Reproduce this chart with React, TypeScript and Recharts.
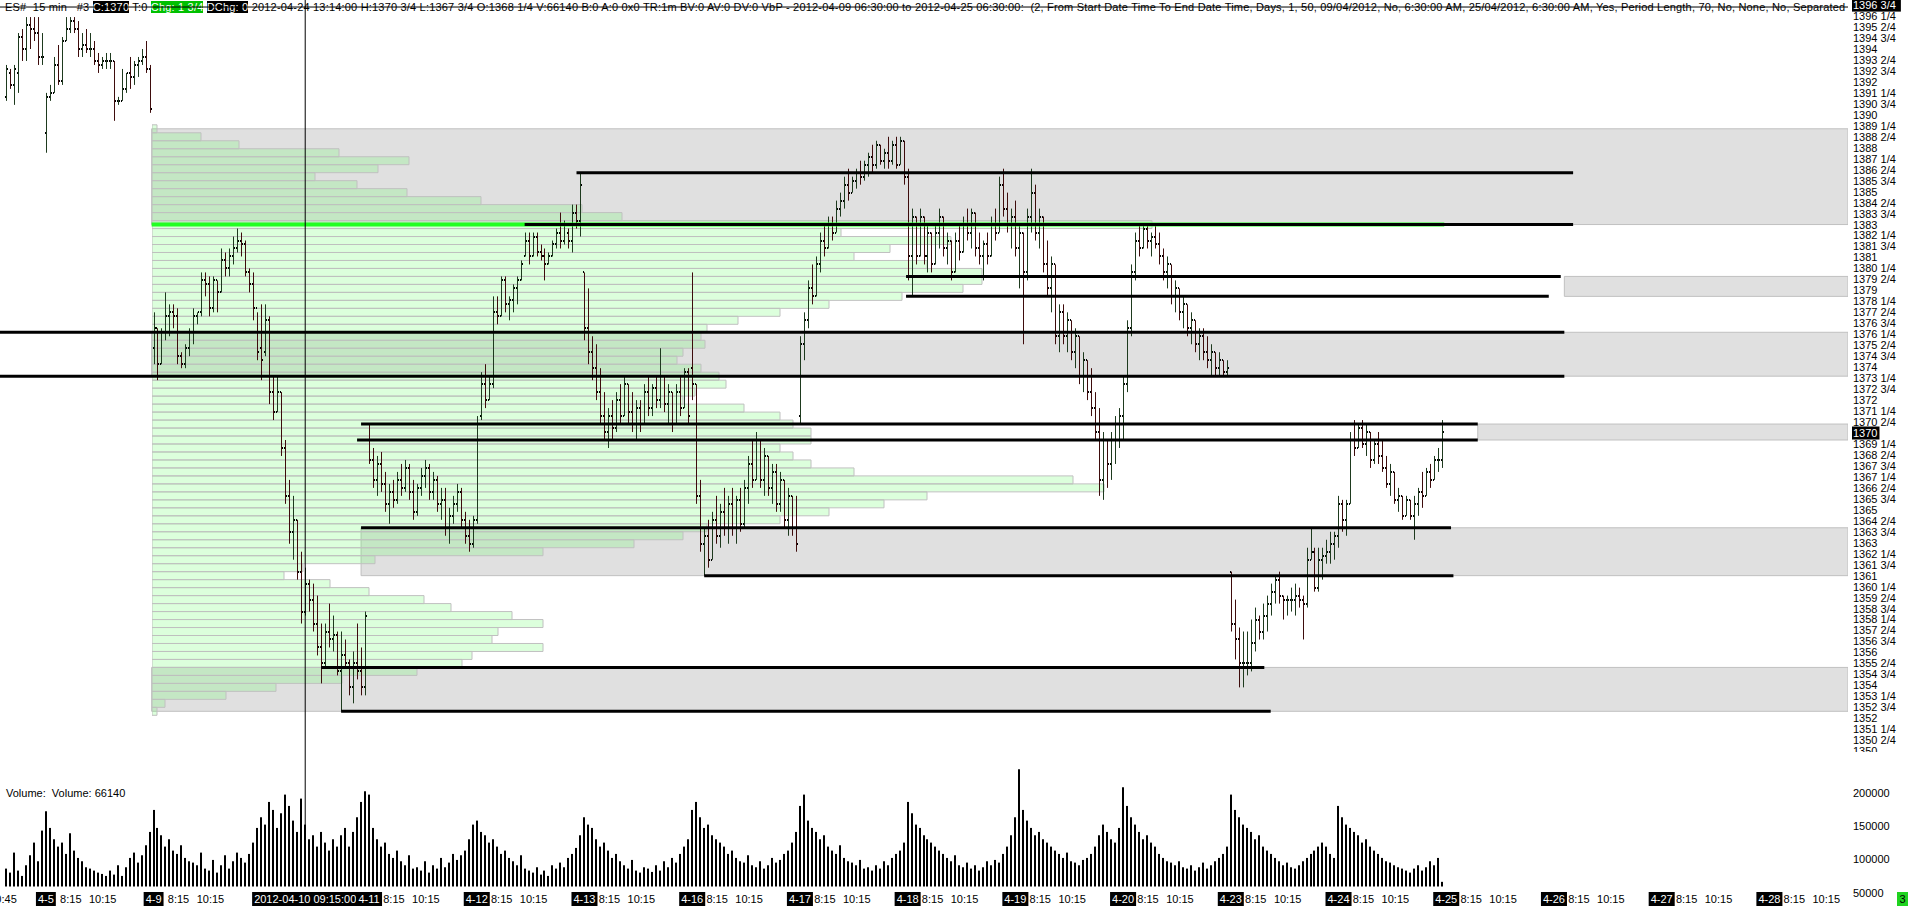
import React from 'react';
import { ComposedChart, Bar, XAxis, YAxis, ReferenceArea, ReferenceLine } from 'recharts';

// ---------------- DATA ----------------
type OHLC = [number, number, number, number]; // open, high, low, close

const s0404: OHLC[] = [
  [1391, 1393, 1390.75, 1392.75], [1392.5, 1392.75, 1391.5, 1391.75], [1391.75, 1393, 1390.5, 1392.75],
  [1392.5, 1395, 1391.25, 1394.75], [1394.75, 1395.25, 1393.25, 1394], [1394, 1396, 1393.25, 1395.5],
  [1395.5, 1396, 1394, 1395.25], [1395.25, 1396, 1394.5, 1395], [1395, 1396, 1393, 1393.5],
  [1393.5, 1395, 1393, 1393.5],
];
const s0405: OHLC[] = [
  [1388.75, 1391.25, 1387.5, 1391], [1391, 1391.75, 1390.75, 1391.25], [1391.25, 1393.5, 1391.25, 1393],
  [1393, 1394.25, 1391.75, 1392], [1392, 1394.75, 1391.75, 1394.5], [1394.5, 1396, 1394.5, 1395.25],
  [1395.25, 1396, 1395, 1395.75], [1395.75, 1396, 1395, 1395.25], [1395.25, 1395.75, 1393.5, 1394],
  [1394, 1395, 1393.5, 1394.25], [1394.25, 1395.25, 1393.75, 1394], [1394, 1395, 1393.5, 1394],
  [1394, 1394.5, 1393, 1393.25], [1393.25, 1393.75, 1392.5, 1393], [1393, 1393.5, 1392.75, 1393.25],
  [1393.25, 1393.75, 1392.75, 1393.25], [1393.25, 1393.75, 1392.75, 1393.25], [1393.25, 1393.25, 1389.5, 1390.75],
  [1390.75, 1391, 1390.5, 1390.75], [1390.75, 1392.75, 1390.75, 1391.5], [1391.5, 1392.5, 1391.25, 1392.5],
  [1392.5, 1393.5, 1391.5, 1392.25], [1392.25, 1393.25, 1391.75, 1393], [1393, 1393.5, 1392.25, 1393.25],
  [1393.25, 1394, 1393, 1393.5], [1393.5, 1394.5, 1392.5, 1392.75], [1392.75, 1393, 1390, 1390.25],
];
const s0409: OHLC[] = [
  [1375.25, 1377.5, 1374.25, 1376.5], [1376.5, 1376.5, 1373.25, 1374.25], [1374.25, 1376.5, 1374.25, 1376.25],
  [1376.25, 1378.75, 1375.75, 1377.25], [1377.25, 1378, 1376, 1377.5], [1377.5, 1378, 1376.5, 1377.25],
  [1377.25, 1377.75, 1374.25, 1374.75], [1374.75, 1375, 1374, 1374.25], [1374.25, 1375.5, 1374, 1375.25],
  [1375.25, 1376.5, 1374.75, 1376.25], [1376.25, 1377.75, 1375.5, 1377.25], [1377.25, 1377.5, 1376.75, 1377.5],
  [1377.5, 1380, 1377.25, 1379.5], [1379.5, 1380, 1378.5, 1379.25], [1379.25, 1379.75, 1377.25, 1377.75],
  [1377.75, 1379.75, 1377.5, 1379.5], [1379.5, 1379.5, 1377.5, 1378.75], [1378.75, 1381.5, 1378.75, 1380.75],
  [1380.75, 1381.25, 1379.75, 1380.25], [1380.25, 1381.5, 1379.75, 1381], [1381, 1382.25, 1380.5, 1381.5],
  [1381.5, 1382.75, 1381.25, 1382], [1382, 1382.5, 1381, 1381.75], [1381.75, 1382, 1379.75, 1380],
  [1380, 1380.25, 1378.75, 1379.25], [1379.25, 1380, 1377, 1377.75], [1377.75, 1377.5, 1374.5, 1375],
];
const s0410: OHLC[] = [
  [1375.25, 1378, 1373.25, 1374.5], [1375, 1378, 1374.75, 1377], [1377, 1377.25, 1371.75, 1372.5],
  [1372.5, 1373.5, 1370.75, 1371.25], [1371.25, 1373.5, 1371.25, 1372.5], [1372.5, 1372.5, 1368.5, 1369],
  [1369, 1369.5, 1365.5, 1366], [1366, 1367, 1363, 1363.75], [1363.75, 1366, 1362, 1364.5],
  [1364.5, 1364.5, 1360.75, 1361.25], [1361.25, 1362.5, 1358, 1358.75], [1358.75, 1361.5, 1358.5, 1360.5],
  [1360.5, 1360.75, 1358.75, 1359.5], [1359.5, 1360.5, 1357.5, 1358], [1358, 1359.75, 1356, 1356.5],
  [1356.5, 1358, 1354.25, 1355.5], [1355.5, 1358, 1355.25, 1357.5], [1357.5, 1359.25, 1356.5, 1357],
  [1357, 1358.5, 1356.25, 1357.25], [1357.25, 1357.5, 1354.75, 1355], [1355, 1357.5, 1352.5, 1356],
  [1356, 1357, 1355.25, 1355.5], [1355.5, 1355.75, 1353.5, 1354], [1354, 1356.25, 1353, 1355.5],
  [1355.5, 1358, 1354.5, 1355], [1355, 1356.5, 1353.5, 1354], [1354, 1358.75, 1353.5, 1358.5],
];
const s0411: OHLC[] = [
  [1369.5, 1370.5, 1368, 1368.25], [1368.25, 1369, 1366.5, 1367], [1367, 1368.5, 1366, 1368],
  [1368, 1368.75, 1366.25, 1366.75], [1366.75, 1367.5, 1365, 1365.5], [1365.5, 1366.75, 1364.25, 1366.25],
  [1366.25, 1367, 1365.25, 1365.75], [1365.75, 1367.5, 1365.5, 1367], [1367, 1368, 1366, 1366.5],
  [1366.5, 1368.25, 1366.25, 1367.75], [1367.75, 1368, 1365.75, 1366.25], [1366.25, 1367, 1364.5, 1365],
  [1365, 1366.75, 1364.75, 1366.5], [1366.5, 1367.75, 1366, 1367.25], [1367.25, 1368.25, 1366.5, 1367.75],
  [1367.75, 1368, 1365.75, 1366.25], [1366.25, 1367.5, 1365.75, 1367], [1367, 1367.25, 1365, 1365.5],
  [1365.5, 1366.5, 1364.5, 1365.75], [1365.75, 1366.5, 1363.5, 1364], [1364, 1365.25, 1363, 1364.75],
  [1364.75, 1366, 1364.25, 1365.5], [1365.5, 1366.75, 1365, 1366.25], [1366.25, 1366.5, 1364, 1364.5],
  [1364.5, 1365, 1363, 1363.5], [1363.5, 1364.5, 1362.5, 1363], [1363, 1364.75, 1362.75, 1364.5],
];
const s0412: OHLC[] = [
  [1364.5, 1371, 1364.25, 1370.5], [1371, 1373.75, 1370.75, 1373], [1373, 1374.25, 1371.5, 1372],
  [1372, 1373.5, 1372, 1373], [1373, 1378.5, 1372.75, 1377.5], [1377.5, 1378.5, 1376.75, 1377.25],
  [1377.25, 1379.75, 1377.25, 1379.5], [1379.5, 1379.75, 1377.5, 1378], [1378, 1378.5, 1377, 1378.25],
  [1378.25, 1379.25, 1377.5, 1379], [1379, 1379.75, 1378, 1379.5], [1379.5, 1380.75, 1379.5, 1380.5],
  [1381, 1382.5, 1381, 1382], [1382, 1382.5, 1380.5, 1381], [1381, 1382.5, 1381, 1382.25],
  [1382.25, 1382.5, 1381, 1381.25], [1381.25, 1381.75, 1380.75, 1381], [1381, 1381.5, 1379.5, 1380.5],
  [1380.5, 1381.25, 1380.5, 1381], [1381, 1382, 1381, 1381.75], [1381.75, 1382.75, 1381.5, 1382.5],
  [1382.5, 1383.75, 1381.5, 1382], [1382, 1383.25, 1381.75, 1383], [1382.5, 1382.75, 1381.5, 1382],
  [1382, 1384.25, 1381.25, 1383.75], [1383.75, 1384.25, 1382.75, 1383.25], [1383.25, 1386.25, 1382.25, 1385.5],
];
const s0413: OHLC[] = [
  [1380, 1380, 1375.75, 1376.5], [1376.5, 1379, 1374.25, 1375], [1375, 1376, 1373.25, 1374],
  [1374, 1375.5, 1372, 1372.5], [1372.5, 1374, 1370.5, 1371], [1371, 1372.5, 1369.5, 1370],
  [1370, 1371.5, 1369, 1371], [1371, 1372, 1369.5, 1370.25], [1370.25, 1372.5, 1370, 1372],
  [1372, 1373, 1370.5, 1371], [1371, 1373.5, 1371, 1373], [1373, 1373, 1370.5, 1371.25],
  [1371.25, 1372.5, 1370, 1370.5], [1370.5, 1372, 1369.5, 1371.5], [1371.5, 1372, 1370, 1370.5],
  [1370.5, 1373, 1370.5, 1372.5], [1372.5, 1373.5, 1371, 1371.5], [1371.5, 1373, 1371, 1372.75],
  [1372.75, 1373.5, 1371.5, 1372], [1372, 1375.25, 1371.5, 1373.5], [1373.5, 1373.5, 1371.25, 1371.75],
  [1371.75, 1373, 1370.5, 1372.5], [1372.5, 1372.5, 1370, 1370.5], [1370.5, 1373, 1370.5, 1372.5],
  [1372.5, 1373.5, 1371, 1371.5], [1371.5, 1374, 1371.5, 1373.75], [1373.75, 1374, 1370.5, 1371],
];
const s0416: OHLC[] = [
  [1374, 1380, 1372, 1373], [1373, 1373, 1365.5, 1366], [1366, 1367, 1362.5, 1363],
  [1363, 1364, 1361, 1363.5], [1363.5, 1364.5, 1361.5, 1362], [1362, 1365, 1362, 1364.5],
  [1364.5, 1366, 1363, 1363.5], [1363.5, 1365.5, 1362.75, 1365], [1365, 1366.5, 1363.5, 1364],
  [1364, 1366, 1363, 1365.5], [1365.5, 1366.5, 1363.5, 1364], [1364, 1366, 1363, 1365.75],
  [1365.75, 1366.5, 1363.75, 1364.25], [1364.25, 1367, 1364, 1366.5], [1366.5, 1368.5, 1365.5, 1368],
  [1368, 1369.5, 1366.5, 1367], [1367, 1370, 1367, 1369.5], [1369.5, 1369.5, 1366.5, 1367],
  [1367, 1369, 1366, 1368.5], [1368.5, 1368.5, 1366, 1366.5], [1366.5, 1368, 1365.5, 1367.5],
  [1367.5, 1368, 1365, 1365.5], [1365.5, 1367.5, 1365, 1367], [1367, 1367, 1364, 1364.5],
  [1364.5, 1366.5, 1363.5, 1366], [1366, 1366, 1363.5, 1364], [1364, 1366, 1362.5, 1363],
];
const s0417: OHLC[] = [
  [1371, 1376, 1370.5, 1375.5], [1375.5, 1377.5, 1374.5, 1377], [1377, 1379.5, 1376.5, 1379],
  [1379, 1380.5, 1378, 1378.5], [1378.5, 1381, 1378.5, 1380.5], [1380.5, 1382.5, 1380, 1382],
  [1382, 1383, 1381, 1381.5], [1381.5, 1383.5, 1381.5, 1383], [1383, 1383.5, 1382, 1382.5],
  [1382.5, 1384.5, 1382.5, 1384], [1384, 1385, 1383.5, 1384.5], [1384.5, 1386, 1384, 1385.5],
  [1385.5, 1386.5, 1384.5, 1385], [1385, 1386, 1385, 1385.75], [1385.75, 1386.5, 1385.25, 1386.25],
  [1386.25, 1387, 1385.5, 1386], [1386, 1387, 1385.75, 1386.75], [1386.75, 1387.5, 1386, 1387.25],
  [1387.25, 1388, 1386.25, 1386.75], [1386.75, 1388.25, 1386.5, 1388], [1388, 1388, 1386.75, 1387],
  [1387, 1387.75, 1386.5, 1387.5], [1387.5, 1388.5, 1386.5, 1387], [1387, 1388.25, 1386.75, 1388],
  [1388, 1388.5, 1386.5, 1386.75], [1386.75, 1388.5, 1386.75, 1388.25], [1388.25, 1388.25, 1385.5, 1386],
];
const s0418: OHLC[] = [
  [1386, 1386.5, 1379.5, 1381], [1381, 1384, 1378.5, 1383.5], [1383.5, 1383.5, 1380.5, 1381],
  [1381, 1384, 1381, 1383.5], [1383.5, 1383.5, 1380.5, 1381], [1381, 1383, 1380, 1382.5],
  [1382.5, 1382.5, 1380, 1380.5], [1380.5, 1383, 1380.5, 1382.5], [1382.5, 1384, 1381.5, 1383.5],
  [1383.5, 1383.5, 1381, 1381.5], [1381.5, 1382.5, 1380.5, 1382], [1382, 1382, 1379.5, 1380],
  [1380, 1382.5, 1380, 1382], [1382, 1383, 1380.75, 1381.25], [1381.25, 1383.5, 1381.25, 1383],
  [1383, 1384, 1382, 1382.5], [1382.5, 1384, 1381.5, 1383.75], [1383.75, 1383.75, 1381, 1381.5],
  [1381.5, 1382.5, 1380.5, 1381], [1381, 1382, 1379.5, 1381.75], [1381.75, 1382.5, 1380.5, 1381],
  [1381, 1383.5, 1381, 1383], [1383, 1384, 1382, 1382.5], [1382.5, 1386, 1382.5, 1385.5],
  [1385.5, 1386.5, 1383.5, 1384], [1384, 1385, 1382.5, 1383], [1383, 1384, 1381.5, 1383.5],
];
const s0419: OHLC[] = [
  [1383.5, 1384.5, 1381, 1381.5], [1381.5, 1383, 1379, 1382.5], [1382.5, 1382.5, 1375.5, 1380],
  [1380, 1384, 1379.5, 1383.5], [1383.5, 1386.5, 1382.5, 1385], [1385, 1385.5, 1382, 1382.5],
  [1382.5, 1384, 1381.5, 1383.5], [1383.5, 1383.5, 1380, 1380.5], [1380.5, 1382, 1378.5, 1379],
  [1379, 1381, 1377.5, 1380.5], [1380.5, 1380.5, 1375.5, 1376], [1376, 1378, 1375, 1377.5],
  [1377.5, 1378, 1375.5, 1376], [1376, 1377.5, 1375, 1377], [1377, 1377, 1374.5, 1375],
  [1375, 1376.5, 1374, 1376], [1376, 1376, 1373, 1373.5], [1373.5, 1375, 1372.5, 1374.5],
  [1374.5, 1374.5, 1372, 1372.5], [1372.5, 1374, 1371, 1371.5], [1371.5, 1372.5, 1369.5, 1370],
  [1370, 1371.5, 1366, 1367], [1367, 1370, 1365.75, 1369.5], [1369.5, 1369.5, 1366.5, 1368],
  [1368, 1370, 1367, 1369.5], [1369.5, 1371, 1368, 1370.5], [1370.5, 1371.5, 1369, 1371],
];
const s0420: OHLC[] = [
  [1371, 1373.5, 1369.5, 1373], [1373, 1377, 1372.5, 1376.5], [1376.5, 1380.5, 1376, 1380],
  [1380, 1382.5, 1379.5, 1382], [1382, 1383, 1381, 1381.5], [1381.5, 1383, 1381.5, 1382.75],
  [1382.75, 1383, 1381.5, 1382], [1382, 1382.5, 1381, 1382.25], [1382.25, 1383, 1381.5, 1381.75],
  [1381.75, 1382.5, 1380.5, 1381], [1381, 1381.5, 1379.5, 1380], [1380, 1381, 1379, 1380.5],
  [1380.5, 1380.5, 1378, 1378.5], [1378.5, 1379.5, 1377.5, 1379], [1379, 1379, 1377, 1377.5],
  [1377.5, 1378.5, 1376.5, 1378], [1378, 1378, 1376, 1376.5], [1376.5, 1377.5, 1375.5, 1377],
  [1377, 1377, 1375, 1375.5], [1375.5, 1376.5, 1374.5, 1376], [1376, 1376.5, 1374.5, 1375],
  [1375, 1376, 1374, 1374.5], [1374.5, 1375.5, 1373.5, 1375], [1375, 1375, 1373.5, 1374],
  [1374, 1375, 1373.5, 1374.5], [1374.5, 1374.5, 1373.5, 1373.75], [1373.75, 1374.5, 1373.5, 1374],
];
const s0423: OHLC[] = [
  [1361.25, 1361.25, 1357.5, 1358], [1358, 1359.5, 1355.75, 1357], [1357, 1357.75, 1354, 1355.5],
  [1355.5, 1357.5, 1354, 1355.5], [1355.5, 1357.5, 1354.75, 1355.5], [1355.5, 1358.25, 1355, 1356.75],
  [1356.75, 1359, 1356.25, 1358.25], [1358.25, 1358.5, 1357, 1357.5], [1357.5, 1359.25, 1357, 1358.5],
  [1358.5, 1359.75, 1357.5, 1359.25], [1359.25, 1360.5, 1358.5, 1360], [1360, 1361, 1359.25, 1360.75],
  [1360.75, 1361.25, 1359.25, 1359.75], [1359.75, 1359.75, 1358.25, 1359.5], [1359.5, 1359.75, 1358.5, 1359.5],
  [1359.5, 1360.25, 1358.75, 1359.5], [1359.5, 1360.5, 1358.5, 1359.75], [1359.75, 1360.25, 1359, 1359.5],
  [1359.5, 1359.75, 1357, 1359.25], [1359.25, 1362.75, 1359, 1362], [1362, 1364, 1362, 1362.5],
  [1362.5, 1362.75, 1360, 1360.25], [1360.25, 1362.75, 1360, 1362], [1362, 1362.75, 1360.75, 1362.25],
  [1362.25, 1363.25, 1361.75, 1362.5], [1362.5, 1363.75, 1361.75, 1363], [1363, 1363.75, 1362, 1363.5],
];
const s0424: OHLC[] = [
  [1363.5, 1366, 1362.75, 1365.5], [1365.5, 1365.75, 1363.75, 1364.5], [1364.5, 1365.75, 1363.5, 1365.5],
  [1365.5, 1370, 1365.5, 1369.5], [1369.5, 1370.75, 1368.5, 1369], [1369, 1370.5, 1369, 1370.25],
  [1370.25, 1370.75, 1369, 1369.25], [1369.25, 1370.5, 1368.5, 1370], [1370, 1370, 1367.75, 1368.25],
  [1368.25, 1369.5, 1368, 1369.25], [1369.25, 1370, 1368, 1368.5], [1368.5, 1369.5, 1367.5, 1367.75],
  [1367.75, 1368.5, 1366.5, 1366.75], [1366.75, 1368, 1366, 1367.5], [1367.5, 1367.5, 1365.5, 1365.75],
  [1365.75, 1366.5, 1365, 1366], [1366, 1366, 1364.5, 1364.75], [1364.75, 1366, 1364.75, 1365.75],
  [1365.75, 1365.75, 1364.5, 1364.75], [1364.75, 1366, 1363.25, 1365.5], [1365.5, 1366.5, 1364.75, 1366.25],
  [1366.25, 1367.5, 1365.25, 1366], [1366, 1367.75, 1366, 1367.5], [1367.5, 1368, 1366.5, 1367],
  [1367, 1368.5, 1367, 1368.25], [1368.25, 1369, 1367.5, 1368.25], [1368.25, 1370.75, 1367.75, 1370],
];

// 15-minute bar volumes, in thousands of contracts
const v0404 = [86, 80, 110, 83, 75, 91, 106, 125, 97, 143];
const v0405 = [172, 147, 130, 119, 125, 108, 139, 113, 102, 97, 88, 86, 83, 80, 78, 75, 83, 77, 91, 75, 88, 102, 110, 95, 106, 121, 141];
const v0409 = [174, 147, 136, 119, 130, 113, 108, 121, 102, 97, 95, 91, 110, 86, 83, 99, 80, 91, 106, 86, 97, 110, 102, 95, 108, 125, 147];
const v0410 = [163, 152, 186, 174, 147, 169, 197, 180, 158, 141, 191, 152, 130, 136, 119, 141, 125, 113, 130, 119, 136, 147, 119, 141, 163, 186, 202];
const v0411 = [197, 147, 130, 119, 125, 108, 102, 113, 97, 91, 106, 86, 88, 83, 97, 80, 91, 86, 102, 88, 95, 108, 99, 106, 113, 130, 152];
const v0412 = [158, 141, 136, 125, 130, 119, 108, 113, 102, 97, 91, 106, 86, 83, 80, 88, 77, 83, 75, 91, 86, 95, 88, 102, 108, 117, 136];
const v0413 = [163, 152, 147, 130, 119, 125, 113, 102, 108, 97, 91, 86, 99, 83, 80, 88, 86, 81, 91, 83, 97, 88, 102, 95, 108, 119, 130];
const v0416 = [174, 186, 163, 147, 152, 136, 130, 125, 119, 108, 113, 102, 97, 95, 106, 91, 88, 97, 86, 91, 102, 95, 99, 108, 113, 125, 141];
const v0417 = [180, 197, 158, 147, 141, 130, 136, 119, 113, 108, 121, 102, 97, 95, 91, 99, 86, 88, 83, 91, 86, 97, 91, 102, 108, 113, 125];
const v0418 = [186, 169, 152, 147, 136, 130, 125, 119, 113, 108, 102, 97, 106, 91, 88, 95, 86, 91, 83, 88, 97, 91, 99, 95, 108, 119, 136];
const v0419 = [163, 235, 174, 158, 147, 136, 141, 130, 125, 119, 113, 108, 102, 110, 97, 95, 91, 99, 102, 108, 119, 136, 152, 141, 130, 125, 147];
const v0420 = [208, 180, 163, 152, 141, 130, 136, 125, 119, 108, 102, 97, 95, 91, 97, 88, 86, 91, 83, 88, 95, 86, 91, 97, 102, 108, 119];
const v0423 = [197, 174, 163, 152, 147, 141, 130, 136, 119, 113, 108, 102, 97, 91, 95, 88, 86, 91, 97, 102, 108, 113, 119, 125, 119, 108, 102];
const v0424 = [180, 163, 152, 147, 141, 136, 125, 130, 119, 113, 108, 102, 97, 95, 91, 88, 86, 83, 80, 86, 91, 83, 88, 97, 91, 102, 66.14];

const sessionBars = [s0404, s0405, s0409, s0410, s0411, s0412, s0413, s0416, s0417, s0418, s0419, s0420, s0423, s0424];
const sessionVolK = [v0404, v0405, v0409, v0410, v0411, v0412, v0413, v0416, v0417, v0418, v0419, v0420, v0423, v0424];
// bar slot of the first drawn bar of each session (4-4 is cut at the left edge)
const sessionFirstSlot = [0, 10, 37, 64, 91, 118, 145, 172, 199, 226, 253, 280, 307, 334];

// Volume-by-price profile (2012-04-09 06:30 to 2012-04-25 06:30), 0.5 pt rows
const profilePrice = [
  1389, 1388.5, 1388, 1387.5, 1387, 1386.5, 1386, 1385.5, 1385, 1384.5,
  1384, 1383.5, 1383, 1382.5, 1382, 1381.5, 1381, 1380.5, 1380, 1379.5,
  1379, 1378.5, 1378, 1377.5, 1377, 1376.5, 1376, 1375.5, 1375, 1374.5,
  1374, 1373.5, 1373, 1372.5, 1372, 1371.5, 1371, 1370.5, 1370, 1369.5,
  1369, 1368.5, 1368, 1367.5, 1367, 1366.5, 1366, 1365.5, 1365, 1364.5,
  1364, 1363.5, 1363, 1362.5, 1362, 1361.5, 1361, 1360.5, 1360, 1359.5,
  1359, 1358.5, 1358, 1357.5, 1357, 1356.5, 1356, 1355.5, 1355, 1354.5,
  1354, 1353.5, 1353, 1352.5,
];
const profileVol = [
  5, 49, 87, 187, 257, 226, 163, 205, 255, 329,
  430, 470, 1000, 689, 799, 738, 702, 775, 830, 830,
  811, 750, 677, 628, 586, 555, 549, 553, 531, 525,
  549, 567, 574, 543, 531, 592, 628, 641, 659, 659,
  628, 641, 659, 702, 921, 952, 775, 732, 677, 628,
  555, 531, 482, 391, 223, 151, 132, 178, 217, 272,
  299, 360, 391, 346, 340, 391, 320, 310, 265, 190,
  124, 74, 13, 5,
];

// gray zones
const zoneLow = [1383, 1378.5, 1373.5, 1369.5, 1361, 1352.5];
const zoneHigh = [1389, 1379.75, 1376.25, 1370.5, 1364, 1355.25];
const zoneFromSlot = [36.5, 390.6, 36.5, 368.9, 89, 36.5];

// black level lines
const levelPrice = [1386.25, 1383, 1379.75, 1378.5, 1376.25, 1373.5, 1370.5, 1369.5, 1364, 1361, 1355.25, 1352.5];
const levelFromSlot = [143, 130, 225.6, 225.6, -1.5, -1.5, 89, 88, 89, 175, 79, 84];
const levelToSlot = [392.8, 392.8, 389.7, 386.7, 390.6, 390.6, 368.9, 368.9, 362.2, 362.8, 315.4, 317];

const pocPrice = 1383;
const pocFromSlot = 36.5;
const pocToSlot = 360.5;

const cursorSlot = 75;
const cursorPrice = 1396.63;
const cursorText = '2012-04-10 09:15:00';
const lastPrice = 1370;

// price scale labels (drawn every 11 px, text rounded to the tick size)
const priceTickLabel = [
  1396.75, 1396.25, 1395.5, 1394.75, 1394, 1393.5, 1392.75, 1392, 1391.25, 1390.75, 1390, 1389.25, 1388.5,
  1388, 1387.25, 1386.5, 1385.75, 1385, 1384.5, 1383.75, 1383, 1382.25, 1381.75, 1381, 1380.25, 1379.5,
  1379, 1378.25, 1377.5, 1376.75, 1376.25, 1375.5, 1374.75, 1374, 1373.25, 1372.75, 1372, 1371.25, 1370.5,
  1370, 1369.25, 1368.5, 1367.75, 1367.25, 1366.5, 1365.75, 1365, 1364.5, 1363.75, 1363, 1362.25, 1361.75,
  1361, 1360.25, 1359.5, 1358.75, 1358.25, 1357.5, 1356.75, 1356, 1355.5, 1354.75, 1354, 1353.25, 1352.75,
  1352, 1351.25, 1350.5, 1350,
];
const PRICE_LABEL_TOP = 1396.75;
const PRICE_LABEL_STEP = 0.6875;
const volumeTicks = [50000, 100000, 150000, 200000];
const axisDayLabel = ['4-5', '4-9', '4-11', '4-12', '4-13', '4-16', '4-17', '4-18', '4-19', '4-20', '4-23', '4-24', '4-25', '4-26', '4-27', '4-28'];
const axisDaySlot = [10, 37, 91, 118, 145, 172, 199, 226, 253, 280, 307, 334, 361, 388, 415, 442];
const timeLabel = ['8:15', '10:15'];
const timeOffset = [7, 15];
const edgeLabel = { slot: 0, text: '10:45' };

const headerText = {
  a: 'ES#  15 min   #3 ',
  close: 'C:1370',
  b: ' T:0 ',
  chg: 'Chg: 1 3/4',
  c: ' ',
  dchg: 'DChg: 0',
  d: ' 2012-04-24 13:14:00 H:1370 3/4 L:1367 3/4 O:1368 1/4 V:66140 B:0 A:0 0x0 TR:1m BV:0 AV:0 DV:0 VbP - 2012-04-09 06:30:00 to 2012-04-25 06:30:00:  (2, From Start Date Time To End Date Time, Days, 1, 50, 09/04/2012, No, 6:30:00 AM, 25/04/2012, 6:30:00 AM, Yes, Period Length, 70, No, None, No, Separated',
};

// ---------------- LAYOUT ----------------
const W = 1912;
const AXIS_W = 64;
const PRICE_H = 752;
const VOL_TOP = 752;
const VOL_H = 156;
const VOL_PLOT_H = 148;
const PROFILE_LEFT = 152;
const X_DOMAIN: [number, number] = [-1.5, 461.7];
const PRICE_DOMAIN: [number, number] = [1349.95, 1397.07];
const VOL_DOMAIN: [number, number] = [38900, 260900];
const VOL_FLOOR = 59150; // lowest volume of the visible pane (bar base)
const PROFILE_DOMAIN: [number, number] = [0, 1696];
const FONT = '"Liberation Sans", Arial, sans-serif';
const UP_COLOR = '#1e3a1e';
const DOWN_COLOR = '#3e0c0c';

// ---------------- TABLES ----------------
const bars: any[] = [];
sessionBars.forEach((sess, k) => {
  sess.forEach((b, i) => {
    const [o, h, l, c] = b;
    const vol = sessionVolK[k][i] * 1000;
    bars.push({ slot: sessionFirstSlot[k] + i, open: o, high: h, low: l, close: c, range: [l, h], vol, volRange: [VOL_FLOOR, vol] });
  });
});

const profileRows = profilePrice.map((p, i) => ({ price: p, vol: profileVol[i] }));

const priceTickPos = priceTickLabel.map((_, k) => PRICE_LABEL_TOP - k * PRICE_LABEL_STEP);
const priceLabelByPos = new Map(priceTickPos.map((p, k) => [p, priceTickLabel[k]]));

type AxisTick = { slot: number; text: string; kind: 'day' | 'time' | 'cursor' };
const axisTicks: AxisTick[] = [{ slot: edgeLabel.slot, text: edgeLabel.text, kind: 'time' }, { slot: cursorSlot, text: cursorText, kind: 'cursor' }];
axisDaySlot.forEach((s, i) => {
  axisTicks.push({ slot: s, text: axisDayLabel[i], kind: 'day' });
  timeOffset.forEach((off, j) => axisTicks.push({ slot: s + off, text: timeLabel[j], kind: 'time' }));
});
axisTicks.sort((a, b) => a.slot - b.slot);
const tickBySlot = new Map(axisTicks.map((t) => [t.slot, t]));

const fmtPrice = (p: number) => {
  const whole = Math.floor(p + 1e-9);
  const q = Math.round((p - whole) * 4);
  return q === 0 ? `${whole}` : `${whole} ${q}/4`;
};
const textW = (s: string) => {
  let w = 0;
  for (const ch of s) w += /[0-9]/.test(ch) ? 6.12 : ch === ' ' ? 3.06 : ch === ':' ? 3.06 : ch === '-' ? 3.66 : 6.1;
  return w;
};

// ---------------- SHAPES / TICKS ----------------
function OhlcShape(props: any) {
  const { x, y, width, height, payload } = props;
  if (x == null || !payload) return null;
  const top = Math.min(y, y + height);
  const hgt = Math.abs(height);
  const { open, high, low, close } = payload;
  const span = high - low;
  const toY = (p: number) => (span === 0 ? top : top + ((high - p) / span) * hgt);
  const cx = Math.round(x + width / 2);
  const col = close >= open ? UP_COLOR : DOWN_COLOR;
  return (
    <g>
      <rect x={cx} y={top} width={1} height={Math.max(hgt, 1)} fill={col} />
      <rect x={cx - 1} y={Math.round(toY(open)) - 1} width={1} height={2} fill="#000" />
      <rect x={cx + 1} y={Math.round(toY(close)) - 1} width={1} height={2} fill="#000" />
    </g>
  );
}

function VolumeShape(props: any) {
  const { x, y, width, height } = props;
  if (x == null) return null;
  const cx = Math.round(x + width / 2);
  const top = Math.min(y, y + height);
  return <rect x={cx - 1} y={top} width={2} height={Math.abs(height)} fill="#000" />;
}

function PriceTick(props: any) {
  const { y, payload } = props;
  const v = payload.value as number;
  const labelValue = priceLabelByPos.get(v) ?? v;
  const label = fmtPrice(labelValue);
  const lx = 1853;
  const hi = labelValue === lastPrice || labelValue === priceTickLabel[0];
  return (
    <g>
      {hi && <rect x={lx - 1} y={y - 6.5} width={textW(label) + 3} height={13} fill="#000" />}
      <text x={lx} y={y} dy="0.36em" fontSize={11} fontFamily={FONT} fill={hi ? '#fff' : '#000'}>
        {label}
      </text>
    </g>
  );
}

function VolTick(props: any) {
  const { y, payload } = props;
  return (
    <text x={1853} y={y} dy="0.36em" fontSize={11} fontFamily={FONT} fill="#000">
      {payload.value}
    </text>
  );
}

function TimeTick(props: any) {
  const { x, payload } = props;
  const t = tickBySlot.get(payload.value);
  if (!t) return null;
  const cy = 899 - VOL_TOP;
  if (t.kind === 'time') {
    return (
      <text x={x - 3} y={cy} dy="0.36em" textAnchor="middle" fontSize={11} fontFamily={FONT} fill="#000">
        {t.text}
      </text>
    );
  }
  const w = textW(t.text) + 4;
  return (
    <g>
      <rect x={x - w / 2} y={cy - 7} width={w} height={14} fill="#000" />
      <text x={x} y={cy} dy="0.36em" textAnchor="middle" fontSize={11} fontFamily={FONT} fill="#fff">
        {t.text}
      </text>
    </g>
  );
}

const layer: React.CSSProperties = { position: 'absolute', left: 0 };

export default function App() {
  return (
    <div style={{ position: 'absolute', left: 0, top: 0, width: W, height: 908, background: '#fff', overflow: 'hidden', fontFamily: FONT }}>
      {/* zones */}
      <div style={{ ...layer, top: 0 }}>
        <ComposedChart width={W} height={PRICE_H} data={bars} margin={{ top: 0, right: AXIS_W, left: 0, bottom: 0 }}>
          <XAxis dataKey="slot" type="number" domain={X_DOMAIN} allowDataOverflow hide />
          <YAxis type="number" domain={PRICE_DOMAIN} allowDataOverflow hide />
          {zoneLow.map((lo, i) => (
            <ReferenceArea key={i} x1={zoneFromSlot[i]} x2={X_DOMAIN[1]} y1={lo} y2={zoneHigh[i]} fill="#e0e0e0" fillOpacity={1} stroke="#c0c0c0" strokeWidth={1} ifOverflow="hidden" />
          ))}
        </ComposedChart>
      </div>
      {/* volume profile */}
      <div style={{ ...layer, top: 0 }}>
        <ComposedChart width={W} height={PRICE_H} data={profileRows} margin={{ top: 0, right: AXIS_W, left: PROFILE_LEFT, bottom: 0 }}>
          <XAxis dataKey="vol" type="number" domain={PROFILE_DOMAIN} allowDataOverflow hide />
          <YAxis dataKey="price" type="number" domain={PRICE_DOMAIN} allowDataOverflow hide />
          {profileRows.map((r, i) => (
            <ReferenceArea key={i} x1={0} x2={r.vol} y1={r.price - 0.25} y2={r.price + 0.25} fill="rgb(100,255,100)" fillOpacity={0.226} stroke="#c0c0c0" strokeWidth={1} ifOverflow="hidden" />
          ))}
        </ComposedChart>
      </div>
      {/* header */}
      <div style={{ position: 'absolute', left: 5, top: 0, height: 14, lineHeight: '14px', fontSize: 11, letterSpacing: '0.19px', whiteSpace: 'pre', color: '#000' }}>
        <span>{headerText.a}</span>
        <span style={{ background: '#000', color: '#fff' }}>{headerText.close}</span>
        <span>{headerText.b}</span>
        <span style={{ background: '#00c000', color: '#fff' }}>{headerText.chg}</span>
        <span>{headerText.c}</span>
        <span style={{ background: '#000', color: '#fff' }}>{headerText.dchg}</span>
        <span>{headerText.d}</span>
      </div>
      {/* price bars, levels, axis */}
      <div style={{ ...layer, top: 0 }}>
        <ComposedChart width={W} height={PRICE_H} data={bars} margin={{ top: 0, right: 0, left: 0, bottom: 0 }}>
          <XAxis dataKey="slot" type="number" domain={X_DOMAIN} allowDataOverflow hide />
          <YAxis
            type="number"
            orientation="right"
            width={AXIS_W}
            domain={PRICE_DOMAIN}
            allowDataOverflow
            ticks={priceTickPos}
            interval={0}
            axisLine={false}
            tickLine={false}
            tick={(p: any) => <PriceTick {...p} />}
          />
          <ReferenceLine segment={[{ x: pocFromSlot, y: pocPrice }, { x: pocToSlot, y: pocPrice }]} stroke="#22ff22" strokeWidth={4} ifOverflow="visible" />
          {levelPrice.map((p, i) => (
            <ReferenceLine key={i} segment={[{ x: levelFromSlot[i], y: p }, { x: levelToSlot[i], y: p }]} stroke="#000" strokeWidth={3} ifOverflow="visible" />
          ))}
          <ReferenceLine x={cursorSlot} stroke="#000" strokeWidth={1} />
          <ReferenceLine y={cursorPrice} stroke="#000" strokeWidth={1} />
          <Bar dataKey="range" isAnimationActive={false} shape={(p: any) => <OhlcShape {...p} />} />
        </ComposedChart>
      </div>
      {/* volume pane */}
      <div style={{ ...layer, top: VOL_TOP }}>
        <ComposedChart width={W} height={VOL_H} data={bars} margin={{ top: 0, right: 0, left: 0, bottom: 0 }}>
          <XAxis
            dataKey="slot"
            type="number"
            domain={X_DOMAIN}
            allowDataOverflow
            height={VOL_H - VOL_PLOT_H}
            ticks={axisTicks.map((t) => t.slot)}
            interval={0}
            axisLine={false}
            tickLine={false}
            tick={(p: any) => <TimeTick {...p} />}
          />
          <YAxis
            type="number"
            orientation="right"
            width={AXIS_W}
            domain={VOL_DOMAIN}
            allowDataOverflow
            ticks={volumeTicks}
            interval={0}
            axisLine={false}
            tickLine={false}
            tick={(p: any) => <VolTick {...p} />}
          />
          <ReferenceLine segment={[{ x: cursorSlot, y: VOL_DOMAIN[1] }, { x: cursorSlot, y: VOL_FLOOR }]} stroke="#000" strokeWidth={1} />
          <Bar dataKey="volRange" isAnimationActive={false} shape={(p: any) => <VolumeShape {...p} />} />
        </ComposedChart>
      </div>
      <div style={{ position: 'absolute', left: 6, top: 787, fontSize: 11, whiteSpace: 'pre' }}>Volume:  Volume: 66140</div>
      <div style={{ position: 'absolute', left: 1897, top: 892, width: 11, height: 14, lineHeight: '14px', fontSize: 11, textAlign: 'center', background: '#1fd31f', color: '#000' }}>3</div>
    </div>
  );
}
